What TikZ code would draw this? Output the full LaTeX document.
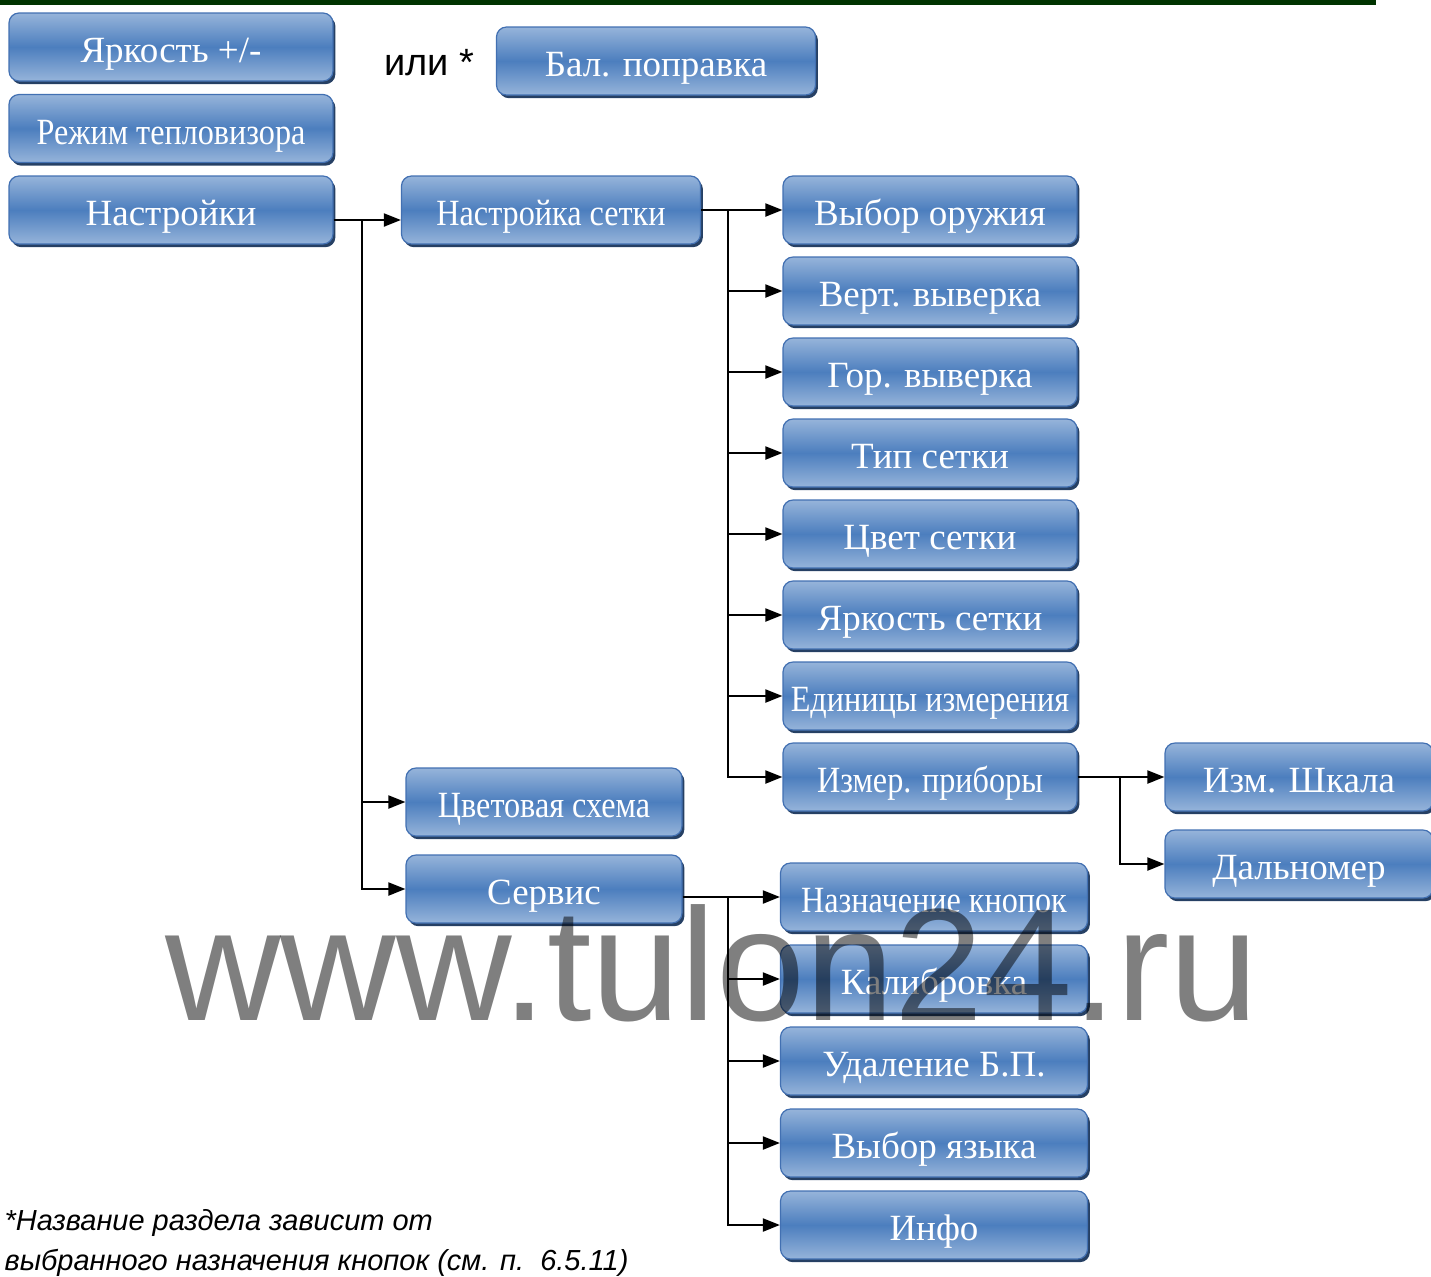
\documentclass[tikz,border=0pt]{standalone}
\usepackage{fontspec}
\setmainfont{Liberation Serif}
\newfontfamily\arialfont{Liberation Sans}
\usepackage{graphicx}
\usepackage{tikz}
\usetikzlibrary{positioning}
\usetikzlibrary{arrows.meta}
\usetikzlibrary{shadows}
\definecolor{boxlight}{RGB}{150,180,218}
\definecolor{boxmid}{RGB}{76,126,190}
\definecolor{boxedge}{RGB}{66,112,178}
\definecolor{boxshade}{RGB}{38,64,100}
\definecolor{topline}{RGB}{0,51,0}
\newcommand{\narrowtext}[1]{\scalebox{0.87}[1]{#1}}

\begin{document}
\begin{tikzpicture}[x=0.5pt, y=-0.5pt, >={Triangle[length=8.5pt,width=6.5pt]}, line width=1pt, node distance=40.5pt,
    menubox/.style={draw=boxedge, line width=0.6pt, rounded corners=5pt,
        top color=boxlight, bottom color=boxlight, middle color=boxmid,
        drop shadow={shadow xshift=1.2pt, shadow yshift=-1.6pt, fill=boxshade, opacity=1},
        minimum height=34pt, inner sep=1pt, text height=15.5pt, text depth=0pt,
        text=white, font=\fontsize{18.5}{22}\selectfont},
    leftbox/.style={menubox, minimum width=162pt},
    gridbox/.style={menubox, minimum width=147pt},
    servbox/.style={menubox, minimum width=153.5pt},
    midbox/.style={menubox, minimum width=138pt},
    sidebox/.style={menubox, minimum width=134pt}]
    \useasboundingbox (0,0) rectangle (1431,1276);
    \draw[topline, line width=2.5pt] (0,2.5) -- (1376,2.5);

    \node[leftbox] (bright) at (171,47) {Яркость +/-};
    \node[leftbox, below of=bright, node distance=40.75pt] (mode) {\narrowtext{Режим тепловизора}};
    \node[leftbox, below of=mode, node distance=40.75pt] (sett) {Настройки};
    \node[font=\arialfont\fontsize{19}{22}\selectfont] (ili) at (429,63) {или *};
    \node[menubox, minimum width=159.5pt] (bal) at (656,61) {Бал. поправка};

    \node[menubox, minimum width=149.5pt] (grid) at (551,210) {\narrowtext{Настройка сетки}};
    \node[midbox] (scheme) at (544,802) {\narrowtext{Цветовая схема}};
    \node[midbox] (serv) at (544,889) {Сервис};

    \node[gridbox] (weap) at (930,210) {Выбор оружия};
    \node[gridbox, below of=weap] (vert) {Верт. выверка};
    \node[gridbox, below of=vert] (hor) {Гор. выверка};
    \node[gridbox, below of=hor] (type) {Тип сетки};
    \node[gridbox, below of=type] (gcol) {Цвет сетки};
    \node[gridbox, below of=gcol] (gbri) {Яркость сетки};
    \node[gridbox, below of=gbri] (units) {\narrowtext{Единицы измерения}};
    \node[gridbox, below of=units] (meas) {\narrowtext{Измер. приборы}};

    \node[sidebox] (scale) at (1299,777) {Изм. Шкала};
    \node[sidebox, below of=scale, node distance=43.5pt] (range) {Дальномер};

    \node[servbox] (keys) at (934,897) {\narrowtext{Назначение кнопок}};
    \node[servbox, below of=keys, node distance=41pt] (calib) {Калибровка};
    \node[servbox, below of=calib, node distance=41pt] (del) {Удаление Б.П.};
    \node[servbox, below of=del, node distance=41pt] (lang) {Выбор языка};
    \node[servbox, below of=lang, node distance=41pt] (info) {Инфо};

    \coordinate (b1) at ([xshift=14pt,yshift=-5pt]sett.east);
    \draw[->] ([yshift=-5pt]sett.east) -- ([yshift=-5pt]grid.west);
    \draw[->] (b1) |- (scheme.west);
    \draw[->] (b1) |- (serv.west);

    \coordinate (b2) at ([xshift=13.5pt]grid.east);
    \draw[->] (grid.east) -- (weap.west);
    \foreach \n in {vert,hor,type,gcol,gbri,units,meas}
        \draw[->] (b2) |- (\n.west);

    \coordinate (b3) at ([xshift=21pt]meas.east);
    \draw[->] (meas.east) -- (scale.west);
    \draw[->] (b3) |- (range.west);

    \coordinate (b4) at (b2 |- keys.west);
    \draw[->] (serv.east |- keys.west) -- (keys.west);
    \foreach \n in {calib,del,lang,info}
        \draw[->] (b4) |- (\n.west);

    \node[anchor=base west, align=left, font=\arialfont\itshape\fontsize{14.5}{20}\selectfont] (note) at (-3,1270)
        {*Название раздела зависит от\\выбранного назначения кнопок (см. п.\ \ 6.5.11)};
    \node[anchor=base, font=\arialfont\fontsize{80}{80}\selectfont, text=black, text opacity=0.5] (wm) at (712,1020) {www.tulon24.ru};
\end{tikzpicture}
\end{document}
